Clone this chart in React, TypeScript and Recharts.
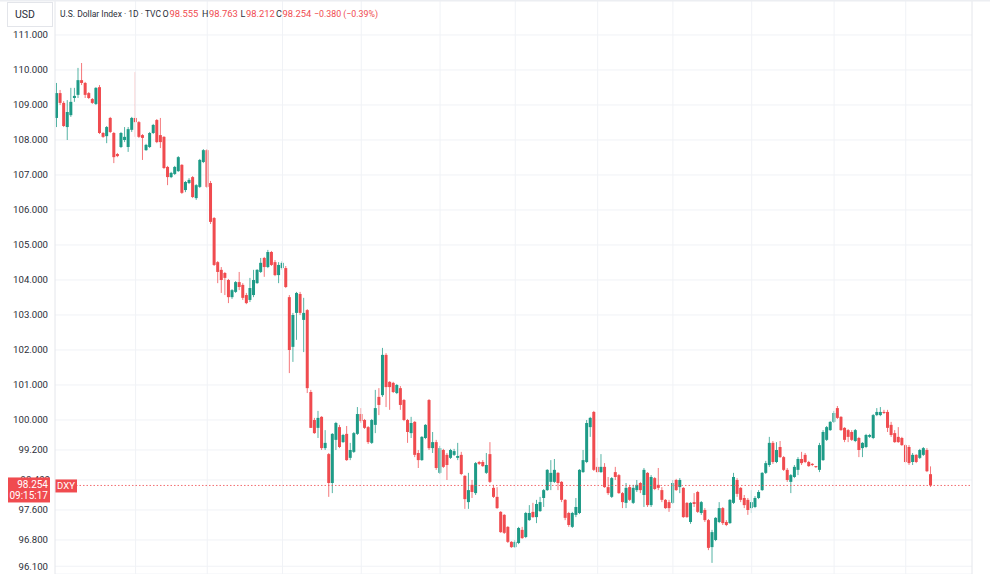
import React from 'react';
import { ComposedChart, Bar, XAxis, YAxis, CartesianGrid, ReferenceLine } from 'recharts';

// ---- data (U.S. Dollar Index, daily candles) ----
const openP = [
  108.63, 109.34, 109.06, 108.37, 108.71, 109.2, 109.29, 109.71, 109.63, 109.34,
  109.17, 109.03, 109.51, 108.2, 108.11, 108.63, 108.2, 107.6, 107.8, 108.0,
  107.8, 108.29, 108.63, 108.51, 108.14, 107.71, 107.8, 108.2, 108.57, 108.14,
  108.09, 107.23, 106.94, 107.03, 107.11, 107.29, 106.57, 106.77, 106.94, 106.34,
  106.66, 107.37, 107.71, 106.77, 105.77, 104.51, 104.29, 104.2, 104.0, 103.51,
  103.66, 103.94, 103.86, 103.57, 103.43, 103.57, 103.91, 104.23, 104.63, 104.37,
  104.8, 104.51, 104.14, 104.34, 104.34, 103.51, 102.09, 103.06, 103.6, 102.86,
  103.14, 100.8, 100.0, 99.79, 100.09, 99.25, 99.09, 98.32, 99.47, 99.81,
  99.41, 99.63, 98.99, 99.15, 99.63, 100.17, 100.0, 99.81, 99.39, 99.87,
  100.66, 100.71, 101.86, 101.09, 101.06, 100.77, 100.91, 100.57, 100.0, 99.65,
  99.95, 99.12, 98.93, 99.52, 100.57, 99.25, 99.41, 98.59, 99.2, 99.07,
  98.99, 99.07, 98.99, 99.07, 98.51, 97.81, 98.27, 98.05, 98.88, 98.88,
  98.59, 99.09, 98.19, 97.95, 97.55, 97.47, 97.15, 96.75, 96.61, 96.72,
  97.07, 96.88, 97.33, 97.55, 97.41, 97.57, 97.92, 98.13, 98.35, 98.35,
  98.59, 98.35, 97.87, 97.52, 97.15, 97.47, 97.52, 98.61, 98.88, 99.81,
  100.23, 98.75, 98.61, 98.75, 98.21, 97.95, 98.61, 98.53, 98.05, 97.79,
  98.21, 97.79, 98.13, 98.32, 98.0, 98.59, 97.73, 98.45, 98.27, 98.13,
  97.87, 97.81, 97.79, 98.4, 98.21, 98.19, 97.79, 97.28, 97.81, 98.08,
  97.52, 97.6, 97.33, 96.61, 96.8, 97.28, 97.65, 97.28, 97.25, 97.79,
  98.4, 98.19, 97.92, 97.87, 97.65, 97.68, 97.92, 98.13, 98.59, 98.8,
  99.39, 98.88, 99.28, 99.01, 98.67, 98.35, 98.48, 98.67, 98.96, 99.07,
  98.88, 98.83, 98.77, 98.67, 98.93, 99.47, 99.73, 99.95, 100.34, 100.09,
  99.79, 99.73, 99.68, 99.44, 99.52, 99.25, 99.28, 99.55, 99.52, 100.14,
  100.14, 100.23, 100.23, 99.87, 99.65, 99.55, 99.52, 99.33, 99.28, 98.88,
  99.07, 98.99, 99.07, 99.2, 98.555,
];
const highP = [
  109.63, 109.43, 109.11, 109.14, 109.49, 109.49, 110.06, 110.2, 109.66, 109.37,
  109.2, 109.51, 109.57, 108.23, 108.4, 108.66, 108.23, 107.63, 108.23, 108.37,
  108.37, 108.66, 109.94, 108.54, 108.17, 107.89, 108.23, 108.46, 108.6, 108.63,
  108.11, 107.26, 107.09, 107.26, 107.54, 107.31, 106.83, 106.91, 106.97, 106.74,
  107.46, 107.74, 107.74, 106.83, 105.8, 104.54, 104.37, 104.23, 104.03, 103.74,
  103.97, 104.23, 103.91, 103.63, 104.06, 104.29, 104.31, 104.63, 104.66, 104.86,
  104.83, 104.57, 104.51, 104.54, 104.4, 103.57, 103.06, 103.66, 103.66, 103.49,
  103.17, 100.86, 100.06, 100.26, 100.11, 99.73, 99.12, 99.65, 99.95, 99.87,
  99.63, 99.84, 99.39, 99.68, 100.37, 100.34, 100.03, 99.84, 100.03, 100.86,
  100.91, 102.06, 101.91, 101.11, 101.09, 101.03, 100.97, 100.6, 100.03, 100.09,
  99.97, 99.2, 99.57, 99.89, 100.6, 99.68, 99.47, 99.31, 99.23, 99.12,
  99.23, 99.23, 99.39, 99.15, 98.53, 98.59, 98.4, 98.88, 98.91, 98.93,
  99.12, 99.41, 98.27, 98.21, 97.57, 97.49, 97.17, 96.77, 96.8, 97.15,
  97.15, 97.55, 97.73, 97.79, 97.87, 97.95, 98.16, 98.69, 98.93, 98.96,
  98.61, 98.37, 97.89, 97.55, 97.55, 97.92, 98.69, 99.2, 100.0, 100.09,
  100.26, 98.99, 99.09, 98.85, 98.48, 98.48, 98.75, 98.56, 98.08, 98.32,
  98.27, 98.27, 98.4, 98.35, 98.72, 98.61, 98.53, 98.48, 98.72, 98.21,
  97.89, 97.87, 98.4, 98.43, 98.45, 98.21, 97.81, 97.81, 98.05, 98.11,
  97.84, 97.65, 97.36, 97.07, 97.41, 97.81, 97.68, 97.33, 97.89, 98.59,
  98.45, 98.21, 98.0, 97.92, 98.13, 97.97, 98.13, 98.61, 98.91, 99.55,
  99.44, 99.41, 99.44, 99.04, 98.72, 98.56, 98.8, 99.01, 99.15, 99.12,
  98.91, 98.85, 98.77, 99.39, 99.73, 99.84, 99.97, 100.26, 100.4, 100.11,
  99.81, 99.76, 99.73, 99.76, 99.55, 99.41, 99.63, 99.63, 100.17, 100.34,
  100.37, 100.29, 100.29, 99.95, 99.73, 99.81, 99.55, 99.36, 99.33, 99.12,
  99.09, 99.23, 99.28, 99.25, 98.763,
];
const lowP = [
  108.37, 109.0, 108.37, 108.0, 108.66, 109.09, 109.2, 109.57, 109.2, 109.17,
  109.03, 109.0, 108.17, 108.06, 107.91, 108.2, 107.34, 107.51, 107.77, 107.94,
  107.66, 108.23, 108.09, 108.06, 107.43, 107.69, 107.77, 108.17, 107.91, 107.77,
  107.17, 106.71, 106.91, 107.0, 107.09, 106.46, 106.51, 106.74, 106.34, 106.29,
  106.63, 107.34, 106.63, 105.6, 104.4, 103.91, 103.63, 103.57, 103.34, 103.46,
  103.63, 103.71, 103.43, 103.31, 103.37, 103.51, 103.89, 104.2, 104.09, 104.34,
  104.4, 104.11, 103.91, 104.29, 103.77, 101.34, 101.66, 102.29, 103.0, 101.94,
  100.77, 99.79, 99.63, 99.52, 99.2, 99.2, 97.95, 98.05, 99.2, 99.25,
  99.39, 98.91, 98.93, 99.12, 99.6, 99.92, 99.76, 99.36, 99.36, 99.65,
  100.14, 100.66, 100.37, 100.29, 100.77, 100.74, 100.29, 99.97, 99.39, 99.52,
  99.01, 98.72, 98.91, 99.49, 99.2, 99.12, 98.67, 98.56, 98.72, 98.4,
  98.96, 99.04, 98.93, 98.53, 97.63, 97.63, 97.92, 98.0, 98.8, 98.75,
  98.56, 98.32, 97.92, 97.63, 96.99, 96.96, 96.72, 96.59, 96.59, 96.69,
  96.83, 96.85, 97.31, 97.39, 97.25, 97.55, 97.68, 98.11, 98.13, 98.32,
  98.13, 97.81, 97.33, 97.15, 97.12, 97.41, 97.49, 98.59, 98.85, 99.55,
  98.64, 98.59, 98.59, 98.19, 98.0, 97.92, 98.4, 98.03, 97.65, 97.65,
  97.84, 97.76, 98.08, 98.05, 97.68, 97.68, 97.68, 98.13, 98.13, 97.81,
  97.63, 97.55, 97.76, 98.11, 98.05, 97.39, 97.39, 97.23, 97.68, 97.52,
  97.47, 97.28, 96.53, 96.19, 96.77, 97.25, 97.2, 97.17, 97.23, 97.76,
  97.95, 97.81, 97.65, 97.47, 97.52, 97.65, 97.89, 98.11, 98.56, 98.75,
  98.83, 98.85, 98.99, 98.64, 98.35, 98.05, 98.45, 98.53, 98.8, 98.85,
  98.75, 98.77, 98.72, 98.61, 98.91, 99.44, 99.71, 99.92, 100.03, 99.71,
  99.41, 99.41, 99.44, 99.41, 99.01, 99.01, 99.25, 99.52, 99.49, 100.11,
  100.11, 100.17, 99.68, 99.55, 99.39, 99.39, 99.31, 98.85, 98.8, 98.8,
  98.85, 98.96, 99.04, 98.61, 98.212,
];
const closeP = [
  109.34, 109.06, 108.4, 108.8, 109.09, 109.26, 109.71, 109.63, 109.29, 109.2,
  109.06, 109.49, 108.2, 108.09, 108.37, 108.23, 107.51, 107.54, 108.2, 108.09,
  108.31, 108.63, 108.51, 108.09, 108.06, 107.86, 108.2, 108.43, 107.94, 107.94,
  107.2, 106.94, 107.06, 107.23, 107.51, 106.49, 106.8, 106.86, 106.37, 106.71,
  107.43, 107.71, 106.66, 105.66, 104.43, 104.23, 104.0, 104.06, 103.51, 103.71,
  103.94, 103.8, 103.49, 103.34, 103.77, 104.0, 104.29, 104.49, 104.37, 104.8,
  104.43, 104.14, 104.43, 104.49, 103.8, 102.0, 103.0, 103.63, 103.06, 103.06,
  100.91, 99.79, 99.65, 100.06, 99.25, 99.39, 98.32, 99.63, 99.92, 99.28,
  99.6, 98.93, 99.2, 99.65, 100.17, 99.97, 99.79, 99.41, 100.0, 100.34,
  100.43, 101.86, 100.94, 100.94, 100.8, 101.0, 100.43, 100.0, 99.68, 99.92,
  99.07, 98.93, 99.55, 99.87, 99.25, 99.41, 98.72, 99.25, 98.75, 98.8,
  99.2, 99.17, 99.04, 98.56, 97.89, 98.13, 98.08, 98.85, 98.83, 98.77,
  98.8, 98.35, 97.95, 97.65, 97.01, 96.99, 96.75, 96.61, 96.75, 97.12,
  96.85, 97.52, 97.52, 97.41, 97.76, 97.81, 98.13, 98.67, 98.59, 98.67,
  98.32, 97.87, 97.39, 97.2, 97.52, 97.68, 98.67, 98.93, 99.92, 100.06,
  98.67, 98.61, 98.75, 98.21, 98.05, 98.45, 98.48, 98.05, 97.81, 98.19,
  97.87, 98.19, 98.27, 98.13, 98.67, 97.73, 98.48, 98.16, 98.19, 97.87,
  97.65, 97.65, 98.32, 98.13, 98.4, 97.41, 97.41, 97.79, 97.76, 97.55,
  97.81, 97.33, 96.59, 97.01, 97.39, 97.65, 97.25, 97.2, 97.87, 98.48,
  98.03, 97.87, 97.73, 97.6, 97.81, 97.92, 98.08, 98.59, 98.85, 99.39,
  98.88, 99.2, 99.01, 98.67, 98.4, 98.53, 98.75, 98.96, 98.85, 98.88,
  98.77, 98.8, 98.75, 99.33, 99.68, 99.81, 99.95, 100.2, 100.06, 99.73,
  99.47, 99.55, 99.47, 99.73, 99.2, 99.39, 99.6, 99.6, 100.14, 100.23,
  100.23, 100.2, 99.79, 99.6, 99.41, 99.41, 99.33, 98.88, 98.85, 99.07,
  98.88, 99.2, 99.25, 98.634, 98.254,
];

const yTicks = [111, 110, 109, 108, 107, 106, 105, 104, 103, 102, 101, 100, 99.2, 98.4, 97.6, 96.8, 96.1];
const hiddenTick = 98.4; // this tick label sits under the last-price tag
const monthStartIdx = [22, 42, 63, 85, 107, 128, 151, 172, 194, 217, 237];
const futureSlots = 11;
const yDomain = [95.893, 112];

const legendTitle = 'U.S. Dollar Index · 1D · TVC';
const legendOpen = '98.555';
const legendHigh = '98.763';
const legendLow = '98.212';
const legendClose = '98.254';
const legendChange = '−0.380 (−0.39%)';
const lastPrice = 98.254;
const lastPriceLabel = '98.254';
const countdownLabel = '09:15:17';
const symbolLabel = 'DXY';
const currencyLabel = 'USD';

// ---- style ----
const UP = '#1e9b87';
const DOWN = '#f04b4f';
const GRID = '#f0f2f6';
const TEXT = '#2a2e39';
const FONT = 'Roboto, "Noto Sans", sans-serif';
const TICK_FS = 9.6;

// The price axis is stretched a little differently above and below 100.
const PIVOT = 100;
const PX_HI = 35;
const PX_LO = 37.5;

function piecewiseScale(dom: number[] = [0, 1], rng: number[] = [0, 1]): any {
  const toU = (v: number) => (v >= PIVOT ? (v - PIVOT) * PX_HI : (v - PIVOT) * PX_LO);
  const fromU = (u: number) => (u >= 0 ? PIVOT + u / PX_HI : PIVOT + u / PX_LO);
  const s: any = (v: number) => {
    const u0 = toU(dom[0]);
    const u1 = toU(dom[1]);
    return rng[0] + ((toU(Number(v)) - u0) / (u1 - u0)) * (rng[1] - rng[0]);
  };
  s.domain = (d?: any[]) => {
    if (d === undefined) return dom.slice();
    dom = [Number(d[0]), Number(d[d.length - 1])];
    return s;
  };
  s.range = (r?: number[]) => {
    if (r === undefined) return rng.slice();
    rng = [Number(r[0]), Number(r[r.length - 1])];
    return s;
  };
  s.invert = (px: number) => {
    const u0 = toU(dom[0]);
    const u1 = toU(dom[1]);
    return fromU(u0 + ((px - rng[0]) / (rng[1] - rng[0])) * (u1 - u0));
  };
  s.copy = () => piecewiseScale(dom.slice(), rng.slice());
  s.ticks = () => yTicks.slice();
  s.tickFormat = () => (v: number) => String(v);
  s.nice = () => s;
  s.clamp = () => s;
  return s;
}

const yScale = piecewiseScale();

const rows: any[] = Array.from({ length: openP.length + futureSlots }, (_, i) =>
  i < openP.length ? { i, o: openP[i], h: highP[i], l: lowP[i], c: closeP[i] } : { i }
);

const Wick = (p: any) => {
  const d = p.payload;
  if (!d || d.o == null || !isFinite(p.y) || !isFinite(p.height)) return null;
  const top = Math.min(p.y, p.y + p.height);
  const h = Math.max(1, Math.abs(p.height));
  return <rect x={p.x + p.width / 2 - 0.5} y={top} width={1} height={h} fill={d.c >= d.o ? UP : DOWN} fillOpacity={0.75} />;
};

const Body = (p: any) => {
  const d = p.payload;
  if (!d || d.o == null || !isFinite(p.y) || !isFinite(p.height)) return null;
  const top = Math.min(p.y, p.y + p.height);
  const h = Math.max(1, Math.abs(p.height));
  return <rect x={p.x} y={top} width={p.width} height={h} fill={d.c >= d.o ? UP : DOWN} />;
};

const HiddenTickLabel = (props: any) => {
  const vb = props.viewBox || {};
  const y = vb.y ?? 0;
  return (
    <text x={50} y={y + 3.5} textAnchor="end" fontSize={TICK_FS} fill={TEXT} fontFamily={FONT}>
      {hiddenTick.toFixed(3)}
    </text>
  );
};

const PriceTag = (props: any) => {
  const vb = props.viewBox || {};
  const y = vb.y ?? 0;
  return (
    <g fontFamily={FONT}>
      <rect x={8} y={y - 8} width={42} height={25} fill={DOWN} />
      <text x={48} y={y + 2.5} textAnchor="end" fontSize={10} fill="#ffffff">{lastPriceLabel}</text>
      <text x={48} y={y + 13.5} textAnchor="end" fontSize={10} fill="#ffffff">{countdownLabel}</text>
      <rect x={55} y={y - 6} width={22} height={13} fill={DOWN} />
      <text x={66} y={y + 3.5} textAnchor="middle" fontSize={9.5} fill="#ffffff">{symbolLabel}</text>
    </g>
  );
};

const Header = () => (
  <svg width={990} height={30} style={{ position: 'absolute', left: 0, top: 0 }} fontFamily={FONT}>
    <rect x={0} y={0} width={990} height={1.5} fill="#eceef2" />
    <rect x={7.5} y={2.5} width={45} height={24} fill="#ffffff" stroke="#e3e5ea" />
    <text x={15} y={18} fontSize={10.5} fill={TEXT}>{currencyLabel}</text>
    <text x={60} y={17} fontSize={8.5} fill={TEXT}>{legendTitle}</text>
    <text x={162.5} y={17} fontSize={9} fill={TEXT}>O</text>
    <text x={169.5} y={17} fontSize={9.4} fill={DOWN}>{legendOpen}</text>
    <text x={202} y={17} fontSize={9} fill={TEXT}>H</text>
    <text x={209} y={17} fontSize={9.4} fill={DOWN}>{legendHigh}</text>
    <text x={240.5} y={17} fontSize={9} fill={TEXT}>L</text>
    <text x={246} y={17} fontSize={9.4} fill={DOWN}>{legendLow}</text>
    <text x={276} y={17} fontSize={9} fill={TEXT}>C</text>
    <text x={282.5} y={17} fontSize={9.4} fill={DOWN}>{legendClose}</text>
    <text x={314} y={17} fontSize={9.4} fill={DOWN} textLength={64} lengthAdjust="spacingAndGlyphs">{legendChange}</text>
  </svg>
);

export default function App() {
  return (
    <div style={{ position: 'absolute', left: 0, top: 0, width: 990, height: 574, background: '#ffffff', overflow: 'hidden' }}>
      <ComposedChart width={990} height={574} data={rows} margin={{ top: 0, right: 18, bottom: 0, left: 0 }}>
        <CartesianGrid xAxisId="w" vertical={false} stroke={GRID} />
        <XAxis xAxisId="w" dataKey="i" type="category" hide />
        <XAxis xAxisId="b" dataKey="i" type="category" hide />
        <YAxis
          type="number"
          domain={yDomain}
          scale={yScale}
          ticks={yTicks}
          interval={0}
          allowDataOverflow
          width={55}
          tickSize={5}
          tickLine={false}
          axisLine={{ stroke: '#e4e6eb' }}
          tick={{ fontSize: TICK_FS, fill: TEXT, fontFamily: FONT }}
          tickFormatter={(v: number) => (v === hiddenTick ? '' : v.toFixed(3))}
        />
        {monthStartIdx.map((m) => (
          <ReferenceLine key={m} xAxisId="w" x={m} stroke={GRID} />
        ))}
        <ReferenceLine xAxisId="w" x={rows.length - 1} position="end" stroke="#e4e6eb" />
        <Bar xAxisId="w" dataKey={(d: any) => (d.o == null ? null : [d.l, d.h])} barSize={1} shape={Wick} isAnimationActive={false} />
        <Bar xAxisId="b" dataKey={(d: any) => (d.o == null ? null : [Math.min(d.o, d.c), Math.max(d.o, d.c)])} barSize={3} shape={Body} isAnimationActive={false} />
        <ReferenceLine xAxisId="w" y={hiddenTick} stroke="none" label={<HiddenTickLabel />} />
        <ReferenceLine xAxisId="w" y={lastPrice} stroke={DOWN} strokeOpacity={0.8} strokeDasharray="1.5 2" label={<PriceTag />} />
      </ComposedChart>
      <Header />
    </div>
  );
}
